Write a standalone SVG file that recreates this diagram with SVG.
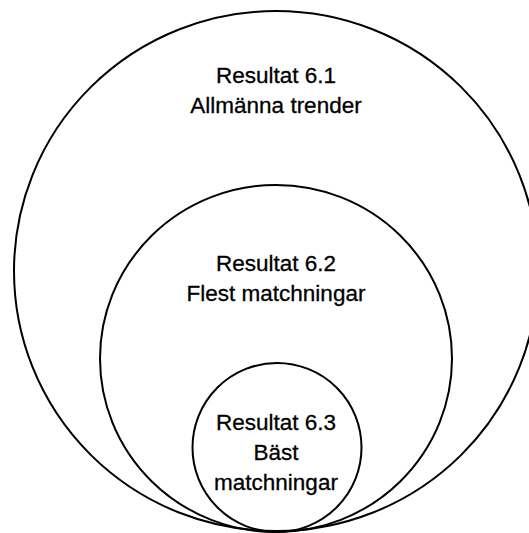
<svg xmlns="http://www.w3.org/2000/svg" width="529" height="533" viewBox="0 0 529 533">
<style>
.c{fill:none;stroke:#000;stroke-width:2}
.t{font-family:"Liberation Sans",Arial,sans-serif;font-size:22.5px;fill:#000;stroke:#000;stroke-width:0.3;text-anchor:middle}
</style>
<rect width="529" height="533" fill="#fff"/>
<g id="outer">
<ellipse class="c" cx="276" cy="271" rx="262" ry="260"/>
<text class="t" x="276" y="83">Resultat 6.1</text>
<text class="t" x="276" y="113">Allmänna trender</text>
</g>
<g id="middle">
<ellipse class="c" cx="276" cy="358.5" rx="176" ry="173.5"/>
<text class="t" x="276" y="271">Resultat 6.2</text>
<text class="t" x="276" y="301">Flest matchningar</text>
</g>
<g id="inner">
<circle class="c" cx="277" cy="447.5" r="84.5"/>
<text class="t" x="276" y="430">Resultat 6.3</text>
<text class="t" x="276" y="460">Bäst</text>
<text class="t" x="276" y="490">matchningar</text>
</g>
<g id="connectors"></g>
</svg>
